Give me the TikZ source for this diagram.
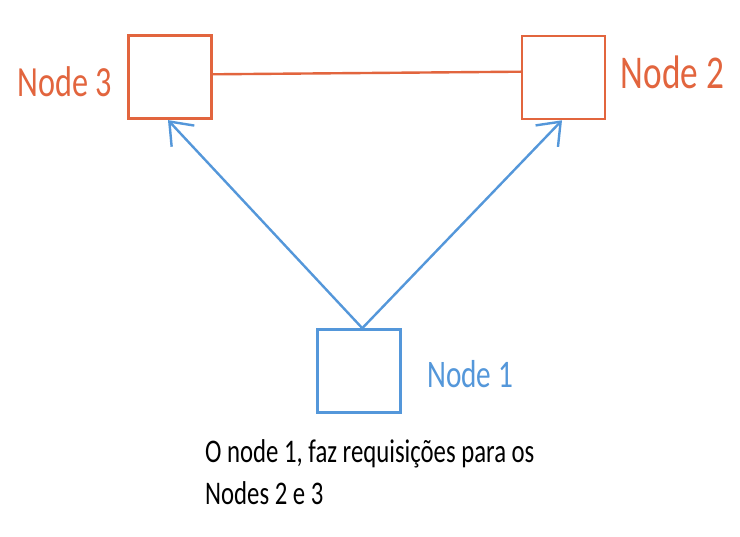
\documentclass[tikz,border=0pt]{standalone}
\usepackage{fontspec}
\usetikzlibrary{arrows.meta,calc}
\newfontfamily\handfont[FakeStretch=0.75]{Carlito}
\definecolor{orng}{RGB}{226,101,62}
\definecolor{blu}{RGB}{84,151,218}
\tikzset{
  box/.style={draw, line width=2.6pt, minimum width=83pt, minimum height=83pt, inner sep=0pt, fill=white},
  obox/.style={box, draw=orng},
  bbox/.style={box, draw=blu},
  olabel/.style={text=orng, inner sep=0pt},
  blabel/.style={text=blu, inner sep=0pt},
  link/.style={draw=orng, line width=2.4pt, line cap=round},
  req/.style={draw=blu, line width=2.4pt, line cap=round, line join=round,
    -{Straight Barb[length=20pt,width=31pt,line width=2.4pt]}},
}
\begin{document}
\begin{tikzpicture}[x=1pt,y=-1pt]
\useasboundingbox[fill=white] (0,0) rectangle (740,537);
\node[obox] (n3) at (169.7,77.3) {};
\node[obox] (n2) at (563.5,77.5) {};
\node[bbox] (n1) at (359,371) {};
\node[olabel, anchor=base east, font=\handfont\fontsize{43}{43}\selectfont] (l3) at (112,97) {Node 3};
\node[olabel, anchor=base west, font=\handfont\fontsize{47}{47}\selectfont] (l2) at (620.7,89) {Node 2};
\node[blabel, anchor=base west, font=\handfont\fontsize{39}{39}\selectfont] (l1) at (427,388) {Node 1};
\node[inner sep=0pt, anchor=base west, align=left, font=\handfont\fontsize{33}{42.5}\selectfont] (txt) at (205,505) {O node 1, faz requisições para os\\Nodes 2 e 3};
\draw[link] ([yshift=3pt]n3.east) -- ([yshift=5.8pt]n2.west);
\draw[req] ([xshift=3.3pt]n1.north) -- ([xshift=-1.7pt]n3.south);
\draw[req] ([xshift=3.3pt]n1.north) -- ([xshift=-1.5pt]n2.south);
\end{tikzpicture}
\end{document}
